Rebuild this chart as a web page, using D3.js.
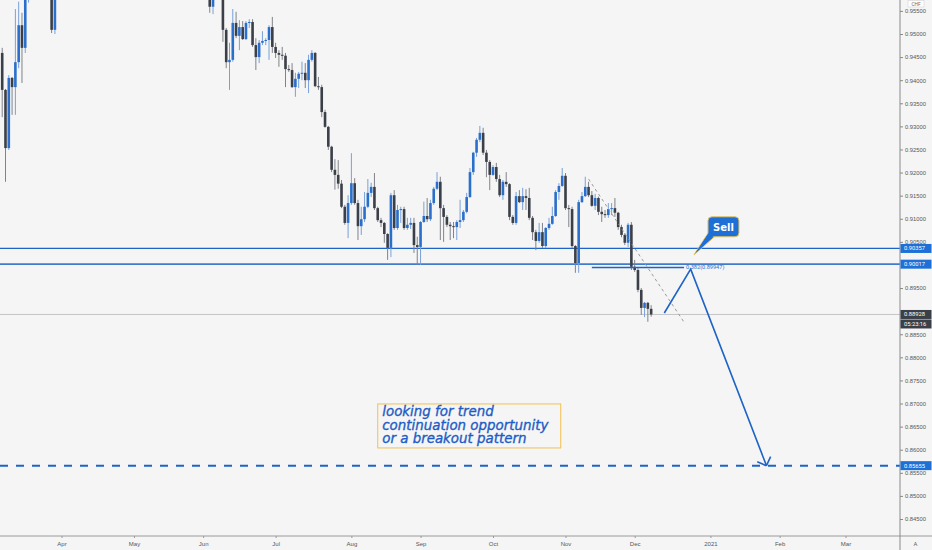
<!DOCTYPE html>
<html>
<head>
<meta charset="utf-8">
<script src="https://cdn.jsdelivr.net/npm/d3@7"></script>
<style>
  body { margin: 0; background: #f5f5f5; }
  svg { display: block; font-family: Roboto, "DejaVu Sans", sans-serif; }
</style>
</head>
<body>
<svg id="chart" width="932" height="550"></svg>
<script>
// daily USD/CHF bars, one per weekday starting at firstDay
const firstDay = "2020-03-06";
const opens = [
  .9459,.9379,.9253,.9405,.9385,.9439,.9519,.9470,.9620,.9720,
  .9800,.9750,.9830,.9760,.9720,.9630,.9509,.9620,.9625,.9660,
  .9700,.9745,.9780,.9740,.9705,.9720,.9690,.9670,.9650,.9700,
  .9730,.9720,.9700,.9750,.9725,.9760,.9770,.9755,.9740,.9690,
  .9640,.9660,.9705,.9720,.9740,.9700,.9720,.9750,.9730,.9720,
  .9730,.9725,.9700,.9680,.9640,.9655,.9720,.9705,.9720,.9680,
  .9650,.9610,.9630,.9640,.9559,.9605,.9630,.9600,.9509,.9439,
  .9444,.9524,.9496,.9515,.9489,.9524,.9526,.9476,.9450,.9481,
  .9485,.9487,.9515,.9472,.9459,.9455,.9453,.9424,.9422,.9385,
  .9403,.9414,.9416,.9400,.9444,.9459,.9387,.9385,.9331,.9299,
  .9256,.9206,.9195,.9176,.9126,.9091,.9134,.9177,.9134,.9084,
  .9099,.9126,.9156,.9169,.9123,.9097,.9091,.9067,.9037,.9151,
  .9080,.9119,.9121,.9080,.9087,.9091,.9043,.9039,.9093,.9106,
  .9099,.9134,.9165,.9180,.9123,.9104,.9087,.9084,.9082,.9093,
  .9097,.9115,.9147,.9201,.9243,.9271,.9286,.9243,.9223,.9195,
  .9212,.9186,.9151,.9180,.9175,.9104,.9091,.9149,.9136,.9149,
  .9145,.9102,.9071,.9052,.9071,.9041,.9080,.9089,.9106,.9158,
  .9171,.9193,.9123,.9121,.9041,.9004,.9136,.9149,.9169,.9151,
  .9128,.9145,.9115,.9110,.9108,.9121,.9123,.9113,.9082,.9065,
  .9048,.9087,.8996,.8989,.8946,.8907,.8918,.8905
];
const highs = [
  .9470,.9381,.9411,.9407,.9554,.9570,.9546,.9660,.9750,.9850,
  .9900,.9880,.9850,.9800,.9740,.9650,.9650,.9665,.9680,.9720,
  .9760,.9800,.9790,.9755,.9735,.9730,.9710,.9685,.9715,.9745,
  .9750,.9735,.9765,.9770,.9775,.9785,.9790,.9770,.9755,.9710,
  .9680,.9720,.9735,.9760,.9750,.9735,.9770,.9765,.9745,.9750,
  .9745,.9735,.9715,.9695,.9670,.9735,.9730,.9740,.9730,.9690,
  .9665,.9645,.9660,.9650,.9625,.9650,.9645,.9610,.9513,.9481,
  .9554,.9548,.9530,.9528,.9528,.9532,.9532,.9491,.9487,.9506,
  .9491,.9519,.9537,.9481,.9465,.9472,.9459,.9433,.9437,.9416,
  .9418,.9440,.9437,.9455,.9465,.9461,.9407,.9390,.9336,.9301,
  .9258,.9229,.9227,.9184,.9130,.9151,.9242,.9188,.9141,.9126,
  .9158,.9186,.9178,.9199,.9126,.9102,.9093,.9069,.9156,.9162,
  .9130,.9126,.9126,.9102,.9102,.9102,.9061,.9095,.9137,.9145,
  .9141,.9169,.9201,.9191,.9130,.9108,.9093,.9093,.9097,.9141,
  .9119,.9156,.9210,.9245,.9275,.9301,.9297,.9249,.9227,.9216,
  .9221,.9195,.9184,.9201,.9177,.9108,.9158,.9162,.9167,.9164,
  .9167,.9106,.9076,.9091,.9091,.9082,.9102,.9126,.9162,.9177,
  .9210,.9199,.9130,.9126,.9043,.9141,.9158,.9191,.9180,.9160,
  .9154,.9148,.9126,.9119,.9134,.9134,.9145,.9115,.9087,.9069,
  .9091,.9093,.9011,.8994,.8950,.8920,.8920,.8913
];
const lows = [
  .9320,.9180,.9249,.9325,.9325,.9426,.9394,.9459,.9568,.9700,
  .9720,.9700,.9720,.9680,.9600,.9502,.9500,.9595,.9605,.9640,
  .9685,.9730,.9720,.9690,.9690,.9670,.9645,.9630,.9640,.9690,
  .9705,.9685,.9695,.9710,.9715,.9740,.9735,.9720,.9675,.9620,
  .9610,.9650,.9690,.9710,.9685,.9690,.9710,.9715,.9700,.9705,
  .9710,.9685,.9665,.9625,.9625,.9645,.9690,.9695,.9670,.9640,
  .9600,.9595,.9615,.9546,.9543,.9590,.9585,.9483,.9426,.9379,
  .9440,.9491,.9465,.9487,.9487,.9513,.9472,.9422,.9437,.9476,
  .9476,.9444,.9459,.9448,.9429,.9444,.9385,.9418,.9383,.9364,
  .9383,.9400,.9383,.9372,.9440,.9385,.9379,.9320,.9297,.9249,
  .9201,.9163,.9165,.9123,.9087,.9058,.9130,.9130,.9054,.9065,
  .9093,.9123,.9147,.9119,.9093,.9082,.9048,.9011,.9017,.9076,
  .9076,.9091,.9076,.9076,.9078,.9026,.9000,.9000,.9091,.9093,
  .9095,.9130,.9162,.9054,.9050,.9082,.9054,.9058,.9054,.9080,
  .9093,.9112,.9145,.9195,.9234,.9266,.9238,.9190,.9162,.9193,
  .9180,.9147,.9141,.9169,.9097,.9087,.9087,.9134,.9119,.9119,
  .9097,.9054,.9032,.9048,.9037,.9037,.9076,.9087,.9104,.9141,
  .9169,.9119,.9082,.9037,.8983,.8983,.9134,.9147,.9147,.9126,
  .9119,.9108,.9093,.9102,.9102,.9108,.9104,.9076,.9060,.9043,
  .9039,.8989,.8985,.8941,.8892,.8887,.8877,.8888
];
const closes = [
  .9379,.9253,.9405,.9385,.9439,.9519,.9470,.9620,.9720,.9800,
  .9750,.9830,.9760,.9720,.9630,.9509,.9620,.9625,.9660,.9700,
  .9745,.9780,.9740,.9705,.9720,.9690,.9670,.9650,.9700,.9730,
  .9720,.9700,.9750,.9725,.9760,.9770,.9755,.9740,.9690,.9640,
  .9660,.9705,.9720,.9740,.9700,.9720,.9750,.9730,.9720,.9730,
  .9725,.9700,.9680,.9640,.9655,.9720,.9705,.9720,.9680,.9650,
  .9610,.9630,.9640,.9559,.9605,.9630,.9600,.9509,.9439,.9444,
  .9524,.9496,.9515,.9489,.9524,.9526,.9476,.9450,.9481,.9485,
  .9487,.9515,.9472,.9459,.9455,.9453,.9424,.9422,.9385,.9403,
  .9414,.9416,.9400,.9444,.9459,.9387,.9385,.9331,.9299,.9256,
  .9206,.9195,.9176,.9126,.9091,.9134,.9177,.9134,.9084,.9099,
  .9126,.9156,.9169,.9123,.9097,.9091,.9067,.9037,.9151,.9080,
  .9119,.9121,.9080,.9087,.9091,.9043,.9039,.9093,.9106,.9099,
  .9134,.9165,.9180,.9123,.9104,.9087,.9084,.9082,.9093,.9097,
  .9115,.9147,.9201,.9243,.9271,.9286,.9243,.9223,.9195,.9212,
  .9186,.9151,.9180,.9175,.9104,.9091,.9149,.9136,.9149,.9145,
  .9102,.9071,.9052,.9071,.9041,.9080,.9089,.9106,.9158,.9171,
  .9193,.9123,.9121,.9041,.9004,.9136,.9149,.9169,.9151,.9128,
  .9145,.9115,.9110,.9108,.9121,.9123,.9113,.9082,.9065,.9048,
  .9087,.8996,.8989,.8946,.8907,.8918,.8905,.88928
];

const priceTicks = [0.845,0.85,0.855,0.86,0.865,0.87,0.875,0.88,0.885,0.89,0.895,
                    0.90,0.905,0.91,0.915,0.92,0.925,0.93,0.935,0.94,0.945,0.95,0.955];
const monthStarts = ["2020-04-01","2020-05-01","2020-06-01","2020-07-01","2020-08-03","2020-09-01",
                     "2020-10-01","2020-11-02","2020-12-01","2021-01-01","2021-02-01","2021-03-01"];
const monthLabels = ["Apr","May","Jun","Jul","Aug","Sep","Oct","Nov","Dec","2021","Feb","Mar"];

// drawings
const levels = [0.90357, 0.90017];
const target = 0.85655;
const lastPrice = 0.88928;
const countdown = "05:23:16";
const fibFrom = { day: "2020-11-11", price: 0.9186 };
const fibTo = { day: "2020-12-22", price: 0.8876 };
const fibRatio = 0.382;
const fibLevel = 0.89947;
const fibStartDay = "2020-11-12";
const pathDays = ["2020-12-14", "2020-12-24", "2021-01-26"];
const pathPrices = [0.8896, 0.8991, 0.85655];
const sellTip = { day: "2020-12-25", price: 0.9022 };
const noteAnchor = { day: "2020-08-13", price: 0.86991 };
const noteLines = ["looking for trend", "continuation opportunity", "or a breakout pattern"];

const BLUE = "#1f63c6", UP = "#2a6fcb", DOWN = "#3b3f48";
const axisX = 900, axisY = 536;

const svg = d3.select("#chart");
svg.append("rect").attr("width", 932).attr("height", 550).attr("fill", "#f5f5f5");

const fmtDay = d3.timeFormat("%Y-%m-%d");
const days = d3.timeDay.range(new Date(2020, 2, 6), new Date(2021, 2, 31))
  .filter(d => d.getDay() !== 0 && d.getDay() !== 6).map(fmtDay);
const dayIndex = new Map(days.map((d, i) => [d, i]));
const offset = dayIndex.get(firstDay);

const x = d3.scaleLinear()
  .domain([dayIndex.get("2020-04-01"), dayIndex.get("2021-03-01")])
  .range([61.5, 845.5]);
const y = d3.scaleLinear().domain([0.845, 0.95]).range([519, 34]);
const xd = d => x(dayIndex.get(d));
const f5 = d3.format(".5f");

svg.append("clipPath").attr("id", "plot")
  .append("rect").attr("width", axisX).attr("height", axisY);
const plot = svg.append("g").attr("clip-path", "url(#plot)");

// level lines
plot.selectAll(".level").data(levels).enter().append("line")
  .attr("x1", 0).attr("x2", axisX)
  .attr("y1", d => y(d)).attr("y2", d => y(d))
  .attr("stroke", (d, i) => i ? "#3f7ccc" : BLUE)
  .attr("stroke-width", (d, i) => i ? 1.8 : 1.3);

plot.append("line")
  .attr("x1", 0).attr("x2", axisX).attr("y1", y(lastPrice)).attr("y2", y(lastPrice))
  .attr("stroke", "#c4c4c4").attr("stroke-width", 1);

plot.append("line")
  .attr("x1", 0).attr("x2", axisX).attr("y1", y(target)).attr("y2", y(target))
  .attr("stroke", BLUE).attr("stroke-width", 2).attr("stroke-dasharray", "8 8");

// candles
const bars = d3.range(closes.length).map(k => ({
  x: x(k + offset), o: opens[k], h: highs[k], l: lows[k], c: closes[k]
}));
const candle = plot.selectAll(".candle").data(bars).enter().append("g");
candle.append("line")
  .attr("x1", d => d.x).attr("x2", d => d.x)
  .attr("y1", d => y(d.h)).attr("y2", d => y(d.l))
  .attr("stroke", d => d.c >= d.o ? "#78a0d8" : "#80838a").attr("stroke-width", 1);
candle.append("rect")
  .attr("x", d => d.x - 1.3).attr("width", 2.6)
  .attr("y", d => y(Math.max(d.o, d.c)))
  .attr("height", d => Math.max(1, Math.abs(y(d.o) - y(d.c))))
  .attr("fill", d => d.c >= d.o ? UP : DOWN);

// fib tool
plot.append("line")
  .attr("x1", xd(fibFrom.day)).attr("y1", y(fibFrom.price))
  .attr("x2", xd(fibTo.day)).attr("y2", y(fibTo.price))
  .attr("stroke", "#9a9a9a").attr("stroke-width", 1).attr("stroke-dasharray", "3 3");
plot.append("line")
  .attr("x1", xd(fibStartDay)).attr("x2", xd(fibTo.day))
  .attr("y1", y(fibLevel)).attr("y2", y(fibLevel))
  .attr("stroke", BLUE).attr("stroke-width", 1.5);
plot.append("text")
  .attr("x", xd(fibTo.day) + 2).attr("y", y(fibLevel) + 2)
  .attr("font-size", 5.6).attr("fill", "#2a6fd0")
  .text(`${fibRatio}(${f5(fibLevel)})`);

// projected path with arrow
const pts = pathDays.map((d, i) => [xd(d), y(pathPrices[i])]);
plot.append("path").attr("d", d3.line()(pts))
  .attr("fill", "none").attr("stroke", BLUE).attr("stroke-width", 1.6);
const [p1, p2] = [pts[1], pts[2]];
const back = Math.atan2(p1[1] - p2[1], p1[0] - p2[0]);
[-0.8, 0.8].forEach(a => {
  plot.append("line")
    .attr("x1", p2[0]).attr("y1", p2[1])
    .attr("x2", p2[0] + 10 * Math.cos(back + a)).attr("y2", p2[1] + 10 * Math.sin(back + a))
    .attr("stroke", BLUE).attr("stroke-width", 1.6);
});

// sell callout
const tx = xd(sellTip.day), ty = y(sellTip.price);
const bx = tx + 14, by = ty - 38, bw = 31, bh = 20;
const sell = plot.append("g");
sell.append("path")
  .attr("d", `M${bx + 1},${by + bh - 5} L${tx},${ty} L${bx + 7},${by + bh - 0.5} Z`)
  .attr("fill", "#1e6fd6").attr("stroke", "#e6c35c").attr("stroke-width", 1);
sell.append("rect").attr("x", bx).attr("y", by).attr("width", bw).attr("height", bh)
  .attr("rx", 4).attr("fill", "#1e6fd6").attr("stroke", "#e6c35c").attr("stroke-width", 1);
sell.append("path")
  .attr("d", `M${bx + 1.5},${by + bh - 5} L${tx + 1},${ty - 1} L${bx + 6.5},${by + bh - 1.5} Z`)
  .attr("fill", "#1e6fd6");
sell.append("text").attr("x", bx + bw / 2).attr("y", by + 14)
  .attr("text-anchor", "middle").attr("font-family", "DejaVu Sans")
  .attr("font-weight", "bold").attr("font-size", 10).attr("fill", "#fff").text("Sell");

// note box
const nx = xd(noteAnchor.day), ny = y(noteAnchor.price);
plot.append("rect").attr("x", nx).attr("y", ny).attr("width", 183).attr("height", 44)
  .attr("fill", "none").attr("stroke", "#f2c14e").attr("stroke-width", 1);
plot.append("g").selectAll("text").data(noteLines).enter().append("text")
  .attr("x", nx + 4.5).attr("y", (d, i) => ny + 12 + i * 13.6)
  .attr("font-family", "DejaVu Sans").attr("font-style", "italic")
  .attr("font-size", 13.4).attr("fill", "#1d5cc6")
  .attr("stroke", "#1d5cc6").attr("stroke-width", 0.35).text(d => d);

// price tags sitting on the scale hide the ticks beneath them
const tagged = [levels[0], levels[1], target, lastPrice];
const shownTicks = priceTicks.filter(t => !tagged.some(p => Math.abs(y(t) - y(p)) < 3.5));

// axes
const yAxis = svg.append("g").attr("transform", `translate(${axisX},0)`)
  .call(d3.axisRight(y).tickValues(shownTicks).tickFormat(f5).tickSize(3).tickPadding(2));
yAxis.select(".domain").remove();
yAxis.selectAll("line").attr("stroke", "#888");
yAxis.selectAll("text").attr("font-size", 5.8).attr("fill", "#555");

const xAxis = svg.append("g").attr("transform", `translate(0,${axisY})`)
  .call(d3.axisBottom(x).tickValues(monthStarts.map(d => dayIndex.get(d)))
    .tickFormat((d, i) => monthLabels[i]).tickSize(2).tickPadding(4));
xAxis.select(".domain").remove();
xAxis.selectAll("line").attr("stroke", "#999");
xAxis.selectAll("text").attr("font-size", 6).attr("fill", "#555");

svg.append("line").attr("x1", 0).attr("x2", 932).attr("y1", axisY).attr("y2", axisY)
  .attr("stroke", "#9a9a9a").attr("stroke-width", 1);
svg.append("line").attr("x1", axisX).attr("x2", axisX).attr("y1", 0).attr("y2", 550)
  .attr("stroke", "#8a8a8a").attr("stroke-width", 1);

// price tags on the scale
function tag(price, fill, label, dy) {
  const cy = y(price) + (dy || 0);
  svg.append("rect").attr("x", axisX + 0.5).attr("y", cy - 4.5).attr("width", 31).attr("height", 9)
    .attr("fill", fill);
  svg.append("text").attr("x", axisX + 4).attr("y", cy + 2)
    .attr("font-size", 5.8).attr("fill", "#fff").text(label);
}
levels.forEach(v => tag(v, "#1e6fd6", f5(v)));
tag(target, "#1e6fd6", f5(target));
tag(lastPrice, "#3b3f48", f5(lastPrice));
tag(lastPrice, "#3b3f48", countdown, 9.5);

// currency badge (kept just above the top tick label) and auto-scale button
svg.append("rect").attr("x", 908).attr("y", 0.5).attr("width", 16).attr("height", 6.5)
  .attr("fill", "#fff").attr("stroke", "#d4d4d4").attr("stroke-width", 0.6);
svg.append("text").attr("x", 916).attr("y", 5.6).attr("text-anchor", "middle")
  .attr("font-size", 4.8).attr("fill", "#666").text("CHF");
svg.append("text").attr("x", 915.5).attr("y", 546).attr("text-anchor", "middle")
  .attr("font-size", 6).attr("fill", "#666").text("A");
</script>
</body>
</html>
